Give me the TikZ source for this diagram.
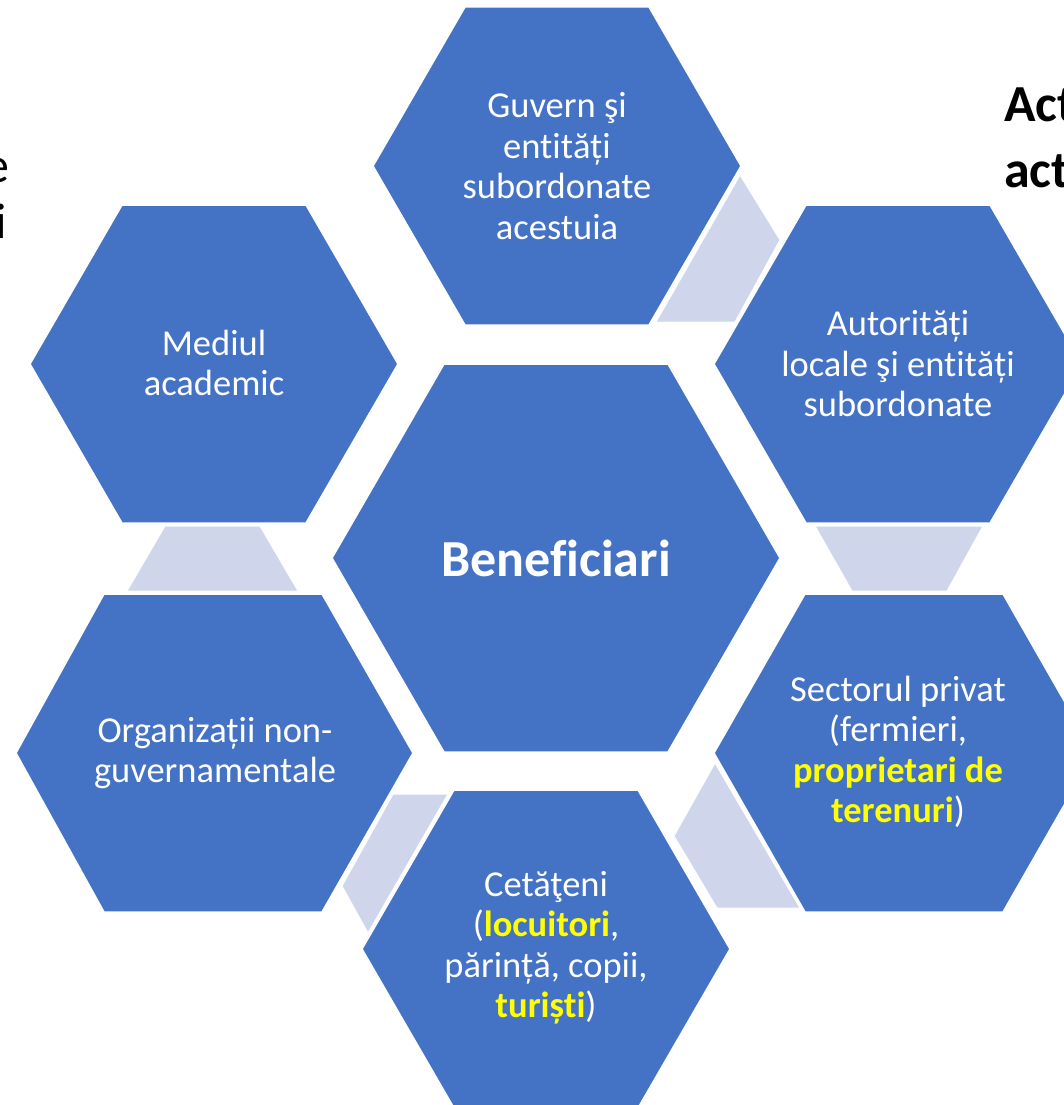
\documentclass[tikz,border=0pt]{standalone}
\usepackage{fontspec}
\setmainfont{Carlito}[Ligatures=NoCommon]
\definecolor{hexblue}{HTML}{4472C4}
\definecolor{connfill}{HTML}{CFD5EA}
\definecolor{hlyellow}{HTML}{FFFF00}
\newcommand\yel[1]{\textbf{\textcolor{hlyellow}{#1}}}
\newcommand\nb{\kern0pt{}}
\begin{document}
\begin{tikzpicture}[x=1pt,y=-1pt,
  hex/.style={fill=hexblue,draw=white,line width=1.5pt,line join=miter},
  link/.style={fill=connfill,draw=white,line width=1pt},
  lbl/.style={text=white,align=center,inner sep=0pt,font=\fontsize{36.5}{40.5}\selectfont},
  big/.style={text=white,inner sep=0pt,font=\fontsize{52}{60}\selectfont\bfseries},
  edge/.style={text=black,inner sep=0pt,font=\fontsize{50}{58}\selectfont}]
\useasboundingbox (0,0) rectangle (1064,1105);
\clip (0,0) rectangle (1064,1105);
% connectors
\path[link] (740,175) -- (780,240) -- (735,322) -- (656,322) -- cycle;
\path[link] (815,526) -- (983,526) -- (947,591) -- (852,591) -- cycle;
\path[link] (715,763) -- (674,836) -- (717,908) -- (800,908) -- cycle;
\path[link] (393,794) -- (448,794) -- (368,933) -- (342,886) -- cycle;
\path[link] (165,526) -- (260,526) -- (298,591) -- (127,591) -- cycle;
% hexagons
\path[hex] (373,166) -- (465,7) -- (649,7) -- (741,166) -- (649,325) -- (465,325) -- cycle;
\path[hex] (714,364) -- (806,205) -- (990,205) -- (1082,364) -- (990,523) -- (806,523) -- cycle;
\path[hex] (30,364) -- (122,205) -- (306,205) -- (398,364) -- (306,523) -- (122,523) -- cycle;
\path[hex] (332,558) -- (444,364) -- (668,364) -- (780,558) -- (668,752) -- (444,752) -- cycle;
\path[hex] (714,753) -- (805,594) -- (1003,594) -- (1094,753) -- (1003,912) -- (805,912) -- cycle;
\path[hex] (16,753) -- (104,594) -- (322,594) -- (413,753) -- (322,912) -- (104,912) -- cycle;
\path[hex] (362,949) -- (454,790) -- (638,790) -- (730,949) -- (638,1108) -- (454,1108) -- cycle;
% labels
\node[lbl] (guvern) at (557,166) {Guvern şi\\ent\nb it\nb ăț\nb i\\subordonate\\acestuia};
\node[lbl] (autoritati) at (898,364) {Autorit\nb ăț\nb i\\locale şi ent\nb it\nb ăț\nb i\\subordonate};
\node[lbl] (mediul) at (214,363) {Mediul\\academic};
\node[big] (benef) at (556,558) {Beneficiari};
\node[lbl] (sector) at (898,752) {Sectorul privat\\(fermieri,\\\yel{proprietari de}\\\yel{terenuri})};
\node[lbl] (ong) at (215,753) {Organizaț\nb ii non-\\guvernamentale};
\node[lbl] (cetateni) at (546,948) {Cetăţeni\\(\yel{locuitori},\\părinț\nb ă, copii,\\\yel{turișt\nb i})};
% partial texts at the edges
\node[edge,anchor=base east] (lefte) at (10,182) {e};
\node[edge,anchor=base east] (lefti) at (7,238) {i};
\node[edge,anchor=base west,font=\fontsize{52}{60}\selectfont\bfseries] (act1) at (1004,122) {Act};
\node[edge,anchor=base west,font=\fontsize{52}{60}\selectfont\bfseries] (act2) at (1004,187) {act};
\end{tikzpicture}
\end{document}
